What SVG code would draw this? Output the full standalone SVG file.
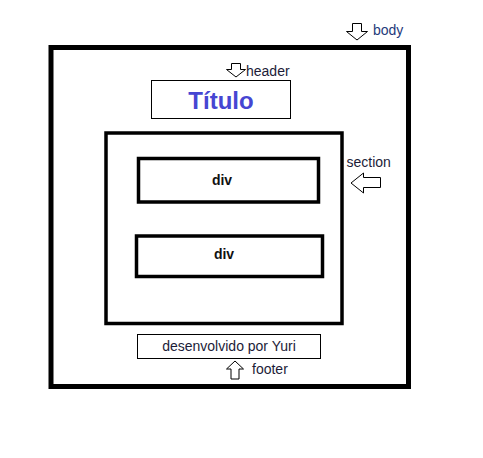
<svg xmlns="http://www.w3.org/2000/svg" width="483" height="458" viewBox="0 0 483 458">
<style>
.lbl{font-family:"Liberation Sans",Arial,sans-serif;font-size:14px;fill:#1c1c38}
.box{fill:none;stroke:#000}
.arr{fill:#fff;stroke:#000;stroke-width:1}
.b{font-family:"Liberation Sans",Arial,sans-serif;font-weight:bold;font-size:14px;fill:#111;text-anchor:middle}
</style>
<rect width="483" height="458" fill="#fff"/>
<g id="body">
<rect class="box" x="51" y="47.5" width="357.5" height="339" stroke-width="5"/>
</g>
<g id="header">
<rect class="box" x="151.5" y="80.5" width="139" height="38" stroke-width="1"/>
<text x="221" y="108.5" font-family="'Liberation Sans',Arial,sans-serif" font-weight="bold" font-size="24" fill="#4646d2" text-anchor="middle">Título</text>
</g>
<g id="section">
<rect class="box" x="106" y="133" width="236" height="190.5" stroke-width="3.5"/>
</g>
<g id="div1">
<rect class="box" x="138.5" y="158.5" width="180" height="43.5" stroke-width="3.5"/>
<text class="b" x="222" y="185">div</text>
</g>
<g id="div2">
<rect class="box" x="136.5" y="236" width="186" height="40.5" stroke-width="3.5"/>
<text class="b" x="224" y="259">div</text>
</g>
<g id="footer">
<rect class="box" x="137.5" y="334.5" width="183" height="24" stroke-width="1"/>
<text class="lbl" x="229" y="351" text-anchor="middle">desenvolvido por Yuri</text>
</g>
<g id="connectors">
<polygon class="arr" points="352.5,23.5 361.5,23.5 361.5,31.5 367.5,31.5 357,40 346.5,31.5 352.5,31.5"/>
<polygon class="arr" points="231.5,63.5 240.5,63.5 240.5,69.5 245.5,69.5 236,77 226.5,69.5 231.5,69.5"/>
<polygon class="arr" points="380.5,177.5 363.5,177.5 363.5,173 351,183 363.5,193 363.5,187.5 380.5,187.5"/>
<polygon class="arr" points="231,379 239,379 239,369 243.5,369 235,361 226.5,369 231,369"/>
</g>
<g id="labels">
<text class="lbl" x="373" y="35" fill="#1f3a7a" style="fill:#1f3a7a">body</text>
<text class="lbl" x="246" y="76">header</text>
<text class="lbl" x="346.5" y="167">section</text>
<text class="lbl" x="252" y="373.5">footer</text>
</g>
</svg>
